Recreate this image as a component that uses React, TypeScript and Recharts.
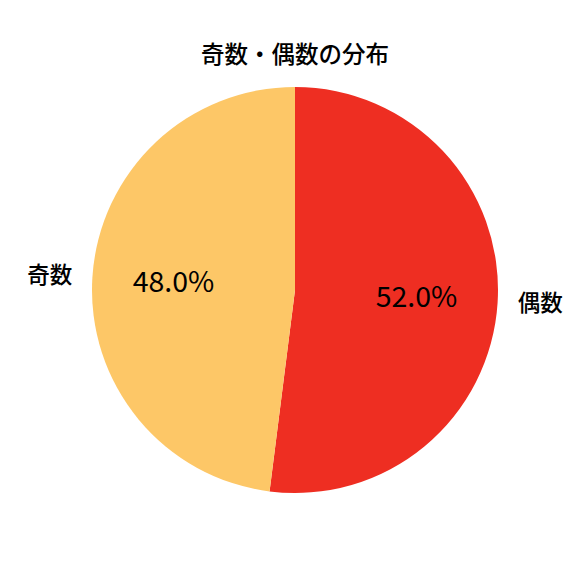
import React from 'react';
import { PieChart, Pie, Cell } from 'recharts';

const categories = ['偶数', '奇数'];
const shares = [52.0, 48.0];
const colors = ['#EE2E22', '#FDC767'];

const data = categories.map((name, i) => ({ name, value: shares[i] }));

const RADIAN = Math.PI / 180;
const FONT = '"Noto Sans CJK JP", "Noto Sans", sans-serif';

function renderLabel(props: any) {
  const { cx, cy, midAngle, outerRadius, percent, name } = props;
  const cos = Math.cos(-midAngle * RADIAN);
  const sin = Math.sin(-midAngle * RADIAN);
  const ox = cx + outerRadius * 1.1 * cos;
  const oy = cy + outerRadius * 1.1 * sin;
  const ix = cx + outerRadius * 0.6 * cos;
  const iy = cy + outerRadius * 0.6 * sin;
  return (
    <g>
      <text x={ox} y={oy} dy={-3} fill="#000" fontSize={22.5} fontFamily={FONT} fontWeight={500}
        textAnchor={cos >= 0 ? 'start' : 'end'} dominantBaseline="central">
        {name}
      </text>
      <text x={ix} y={iy} dy={-3} fill="#000" fontSize={28.5} fontFamily={FONT}
        textAnchor="middle" dominantBaseline="central">
        {`${(percent * 100).toFixed(1)}%`}
      </text>
    </g>
  );
}

export default function App() {
  return (
    <div style={{ position: 'absolute', left: 0, top: 0, width: 576, height: 576, background: '#fff' }}>
      <div style={{
        position: 'absolute', left: 0, width: 590, top: 36, textAlign: 'center',
        fontFamily: FONT, fontSize: 23.5, fontWeight: 500, color: '#000', lineHeight: '34px',
      }}>
        奇数・偶数の分布
      </div>
      <PieChart width={576} height={576} margin={{ top: 0, right: 0, bottom: 0, left: 0 }}
        style={{ position: 'absolute', left: 0, top: 0 }}>
        <Pie
          data={data}
          dataKey="value"
          nameKey="name"
          cx={295}
          cy={290}
          outerRadius={203}
          startAngle={90}
          endAngle={-270}
          stroke="none"
          labelLine={false}
          label={renderLabel}
          isAnimationActive={false}
        >
          {data.map((d, i) => (
            <Cell key={d.name} fill={colors[i]} />
          ))}
        </Pie>
      </PieChart>
    </div>
  );
}
